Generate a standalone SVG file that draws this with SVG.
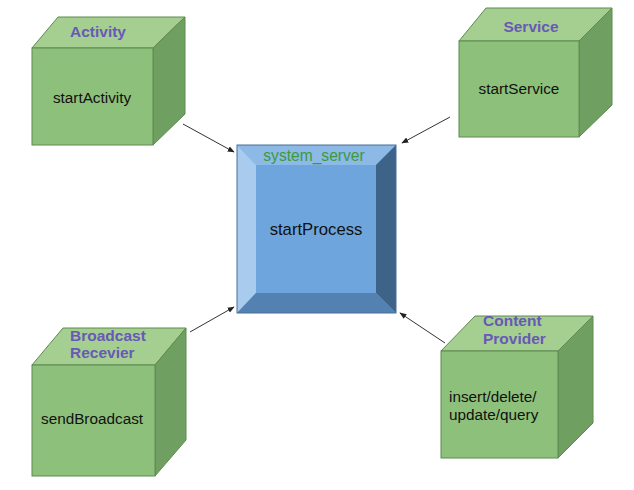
<svg xmlns="http://www.w3.org/2000/svg" width="634" height="490" viewBox="0 0 634 490">
<defs>
<style>
.front{fill:#8dc07a;stroke:#5e8a50;stroke-width:1}
.top{fill:#a4cf90;stroke:#5e8a50;stroke-width:1}
.side{fill:#6f9f61;stroke:#5e8a50;stroke-width:1}
.lbl{font-family:"Liberation Sans",Arial,sans-serif;font-size:15.5px;font-weight:bold;fill:#6958b8}
.txt{font-family:"Liberation Sans",Arial,sans-serif;font-size:15.3px;fill:#111}
.conn{stroke:#333;stroke-width:1;fill:none;marker-end:url(#ah)}
</style>
<marker id="ah" viewBox="0 0 10 10" refX="9" refY="5" markerWidth="7" markerHeight="7" orient="auto" markerUnits="userSpaceOnUse">
<path d="M0,1 L10,5 L0,9 z" fill="#222"/>
</marker>
</defs>
<rect width="634" height="490" fill="#fff"/>
<g id="activity">
<polygon class="top" points="32,48 58,17 185,17 153,48"/>
<polygon class="side" points="153,48 185,17 185,114 153,145"/>
<rect class="front" x="32" y="48" width="121" height="97"/>
<text class="lbl" x="98" y="37" text-anchor="middle">Activity</text>
<text class="txt" x="92" y="103" text-anchor="middle">startActivity</text>
</g>
<g id="service">
<polygon class="top" points="459,41 486,8 612,8 579,41"/>
<polygon class="side" points="579,41 612,8 612,105 579,137"/>
<rect class="front" x="459" y="41" width="120" height="96"/>
<text class="lbl" x="531" y="32" text-anchor="middle">Service</text>
<text class="txt" x="519" y="94" text-anchor="middle">startService</text>
</g>
<g id="system_server">
<rect x="237" y="145" width="159" height="168" fill="#6ea5dc"/>
<polygon points="237,145 396,145 376,165 256,165" fill="#8db9e6"/>
<polygon points="237,145 256,165 256,293 237,313" fill="#a9cbee"/>
<polygon points="396,145 396,313 376,293 376,165" fill="#3e6389"/>
<polygon points="237,313 256,293 376,293 396,313" fill="#5281b2"/>
<rect x="237" y="145" width="159" height="168" fill="none" stroke="#4a6f96" stroke-width="1"/>
<text x="314" y="161" text-anchor="middle" font-family="Liberation Sans, Arial, sans-serif" font-size="15.6" fill="#3c9a3c">system_server</text>
<text x="316" y="235" text-anchor="middle" font-family="Liberation Sans, Arial, sans-serif" font-size="16.7" fill="#111">startProcess</text>
</g>
<g id="broadcast">
<polygon class="top" points="32,365 63,328 186,328 155,365"/>
<polygon class="side" points="155,365 186,328 186,440 155,476"/>
<rect class="front" x="32" y="365" width="123" height="111"/>
<text class="lbl" x="70" y="341">Broadcast</text>
<text class="lbl" x="70" y="358">Recevier</text>
<text class="txt" x="41" y="424">sendBroadcast</text>
</g>
<g id="content_provider">
<polygon class="top" points="441,351 475,316 593,316 558,351"/>
<polygon class="side" points="558,351 593,316 593,423 558,458"/>
<rect class="front" x="441" y="351" width="117" height="107"/>
<text class="lbl" x="483" y="326">Content</text>
<text class="lbl" x="483" y="344">Provider</text>
<text class="txt" x="449" y="402">insert/delete/</text>
<text class="txt" x="449" y="420">update/query</text>
</g>
<g id="connectors">
<line class="conn" x1="183" y1="124" x2="234" y2="152"/>
<line class="conn" x1="450" y1="117" x2="402" y2="143"/>
<line class="conn" x1="190" y1="332" x2="234" y2="307"/>
<line class="conn" x1="445" y1="343" x2="400" y2="313"/>
</g>
</svg>
